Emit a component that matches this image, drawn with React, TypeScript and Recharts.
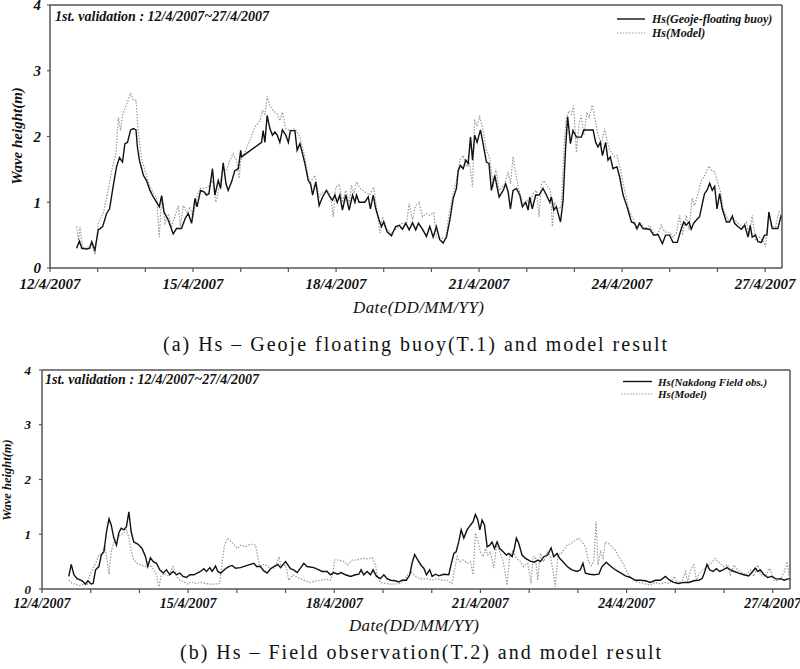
import { Line, LineChart, ReferenceLine, XAxis, YAxis } from "recharts";

// hours since 12/4/2007 00:00, wave height (m)
const geojeObs = [
  [13.4, 0.3], [14.8, 0.41], [16, 0.3], [18.5, 0.29], [20, 0.3], [21, 0.4], [22.6, 0.27], [24.3, 0.58], [26.5, 0.63], [28.5, 0.83],
  [30, 0.9], [32, 1.28], [33.5, 1.54], [35, 1.68], [36.5, 1.61], [37.7, 1.89], [39, 1.91], [40.6, 2.1], [42, 2.12], [43.3, 2.1],
  [44, 1.84], [45, 1.64], [47, 1.41], [48.6, 1.33], [50.3, 1.18], [52, 1.08], [53.7, 1.0], [55, 0.93], [56.2, 1.1], [57.4, 0.85],
  [59.5, 0.73], [60.7, 0.63], [62, 0.52], [63.7, 0.6], [66.2, 0.6], [68, 0.75], [69.6, 0.83], [71.3, 0.68], [73, 1.06], [74, 0.93],
  [75.8, 1.18], [77.5, 1.16], [78.8, 1.11], [80, 1.13], [81.8, 1.51], [83, 1.11], [84.7, 1.33], [85.9, 1.21], [87.2, 1.6], [88.6, 1.28],
  [89.7, 1.18], [91.4, 1.31], [93, 1.48], [94.8, 1.51], [96, 1.79], [96.4, 1.69], [106.5, 1.91], [107.3, 2.09], [108.2, 1.91], [109.3, 2.32],
  [110.7, 2.12], [112, 2.02], [113.2, 2.07], [114.4, 2.02], [115.7, 1.91], [117, 2.1], [118.7, 2.02], [120, 1.91], [121, 2.09], [123.3, 2.09],
  [124.4, 1.79], [125.8, 1.89], [127.1, 1.74], [128.3, 1.59], [130, 1.33], [131.2, 1.28], [132.2, 1.11], [133.8, 1.31], [135.5, 0.95], [137.2, 1.08],
  [139.2, 1.18], [140.9, 1.08], [142.2, 1.03], [143.4, 1.11], [144.6, 1.0], [145.9, 1.11], [147.2, 0.88], [148.9, 1.11], [150.6, 0.88], [152.3, 1.11],
  [153.5, 1.0], [154.3, 1.11], [155.6, 1.0], [158.5, 1.0], [160.2, 1.08], [161.3, 0.9], [162.7, 1.11], [164, 0.9], [165.7, 0.73], [166.9, 0.63],
  [168, 0.7], [169.7, 0.55], [171.9, 0.49], [174, 0.63], [175.8, 0.65], [177.4, 0.59], [179.1, 0.68], [180.8, 0.58], [182.5, 0.69], [184.1, 0.58],
  [185.5, 0.68], [187.5, 0.59], [189.5, 0.48], [191.2, 0.63], [192.9, 0.47], [194.5, 0.63], [196.2, 0.43], [197.9, 0.38], [199.6, 0.47], [201.3, 0.73],
  [203, 1.06], [204.6, 1.21], [205.5, 1.48], [206.6, 1.56], [208, 1.51], [209.3, 1.64], [210.5, 1.59], [211.7, 1.99], [212.7, 1.64], [213.8, 2.02],
  [215, 1.91], [216.7, 2.1], [218, 1.89], [219.7, 1.61], [221, 1.59], [222.2, 1.18], [223.9, 1.41], [226.1, 1.08], [228.1, 1.18], [229.4, 1.28],
  [230.6, 1.16], [231.8, 0.9], [233.1, 1.18], [234.8, 1.21], [236.5, 1.11], [237.8, 0.93], [239.5, 1.0], [240.7, 0.88], [241.5, 1.08], [242.8, 0.9],
  [244.5, 1.11], [246.2, 1.11], [248.2, 1.21], [249.9, 1.11], [251.6, 1.0], [252.4, 1.08], [253.6, 0.88], [254.9, 0.93], [255.8, 0.83], [257, 0.7],
  [258.3, 1.03], [259.6, 1.84], [260.6, 2.3], [262, 1.89], [263.3, 2.09], [265, 1.99], [267.5, 1.99], [268.7, 2.1], [273.4, 2.1], [274.7, 1.91],
  [275.9, 1.84], [277, 1.91], [278.1, 1.71], [279.7, 1.91], [280.9, 1.64], [282.1, 1.69], [283.4, 1.51], [285.4, 1.54], [286.8, 1.38], [288.5, 1.11],
  [290.5, 0.93], [292.7, 0.7], [294.3, 0.68], [295.5, 0.6], [296.8, 0.68], [298.5, 0.6], [301.9, 0.59], [303.9, 0.5], [306.1, 0.51], [308.3, 0.37],
  [309.9, 0.5], [311.9, 0.5], [313.6, 0.39], [315.8, 0.39], [317.3, 0.55], [319, 0.7], [320.3, 0.65], [321.7, 0.7], [322.8, 0.59], [324, 0.68],
  [325.4, 0.73], [327, 0.78], [328.4, 0.98], [329.5, 1.13], [330.7, 1.18], [332.1, 1.29], [333.4, 1.18], [334.6, 1.24], [335.8, 0.9], [337.1, 1.13],
  [338.4, 0.9], [340.5, 0.7], [342.1, 0.7], [343.5, 0.79], [344.6, 0.68], [346.3, 0.63], [348, 0.59], [349.7, 0.65], [351.4, 0.47], [352.5, 0.65],
  [353.5, 0.47], [355.2, 0.5], [356.4, 0.4], [358.1, 0.39], [359.7, 0.5], [360.9, 0.5], [361.9, 0.85], [363.6, 0.6], [366.4, 0.6], [368.1, 0.8],
];

const geojeModel = [
  [13.4, 0.63], [14.3, 0.42], [15.1, 0.63], [16.3, 0.32], [18.4, 0.3], [21, 0.37], [22.6, 0.2], [24.3, 0.68], [26.8, 0.83], [29.3, 1.18],
  [31, 1.48], [33.2, 1.74], [34.4, 2.29], [35.6, 2.09], [36.6, 2.34], [38.6, 2.49], [40.6, 2.66], [42, 2.55], [43.3, 2.55], [44.4, 2.09],
  [46.1, 1.66], [47.8, 1.48], [50.3, 1.23], [52.3, 1.13], [53.7, 1.06], [55, 0.47], [56.2, 1.08], [57.9, 0.68], [59.5, 0.8], [61.2, 0.63],
  [64.6, 0.95], [65.7, 0.63], [67.1, 0.95], [69.1, 0.83], [70.4, 0.93], [72.1, 0.78], [73.8, 1.08], [75.5, 1.21], [77.5, 1.21], [79.7, 1.23],
  [81.8, 1.33], [83.5, 1.0], [85.2, 1.23], [86.9, 1.48], [88.9, 1.48], [90.6, 1.64], [92.2, 1.74], [93.9, 1.64], [95.3, 1.36], [96, 1.64],
  [98.1, 1.76], [100.6, 1.94], [103.1, 2.14], [105.7, 2.24], [107, 2.39], [108.2, 2.34], [109.3, 2.61], [110.7, 2.47], [112.4, 2.39], [114.4, 2.34],
  [115.7, 2.24], [117, 2.37], [118.7, 2.12], [120.8, 2.09], [123.3, 2.12], [125.8, 1.99], [128.3, 1.69], [130, 1.38], [131.2, 1.31], [133.3, 1.41],
  [135.5, 1.08], [137.5, 1.16], [139.5, 1.18], [141.2, 1.11], [142.6, 0.78], [143.9, 1.23], [145.6, 1.28], [147.2, 1.0], [148.9, 1.18], [150.6, 0.98],
  [151.8, 1.26], [153, 1.13], [154.3, 1.31], [156, 1.21], [158.5, 1.16], [161, 1.11], [163, 1.23], [164.7, 0.85], [166, 0.53], [167.4, 0.78],
  [169.4, 0.6], [171.9, 0.53], [174.4, 0.6], [176.9, 0.68], [179.5, 0.68], [180.8, 0.98], [182.5, 0.73], [184.1, 0.95], [185.8, 1.0], [187.5, 0.78],
  [189.5, 0.83], [191.2, 0.8], [193.2, 0.84], [194.5, 0.47], [197.1, 0.45], [199.2, 0.45], [200.9, 0.83], [203, 1.13], [204.6, 1.33], [206.3, 1.64],
  [208, 1.71], [209.6, 1.54], [211.3, 1.59], [212.7, 1.23], [213.8, 2.24], [215, 2.17], [216.3, 2.3], [217.7, 2.14], [219.7, 1.79], [221.4, 1.66],
  [223.1, 1.23], [224.4, 1.51], [226.1, 1.18], [228.9, 1.28], [230.6, 1.46], [231.8, 1.28], [233.1, 1.69], [234.8, 1.38], [236.5, 1.13], [238.2, 0.98],
  [240.2, 1.03], [241.5, 0.98], [243.2, 1.13], [244.9, 1.18], [246.2, 0.78], [247.4, 1.28], [248.5, 1.33], [250.7, 1.23], [251.9, 1.18], [252.9, 0.63],
  [254.1, 1.0], [255.8, 0.9], [257.4, 0.93], [258.8, 1.84], [259.9, 2.29], [261.3, 2.39], [262.5, 2.34], [263.6, 2.47], [265, 1.76], [266.3, 2.19],
  [267.5, 2.32], [268.7, 2.02], [270.3, 2.37], [271.4, 2.29], [273, 2.48], [274.2, 2.29], [275.9, 2.02], [277.6, 1.89], [279.2, 2.12], [280.4, 1.94],
  [281.8, 1.79], [284.3, 1.69], [285.4, 1.71], [287.1, 1.51], [289.3, 1.18], [291.5, 0.88], [293.8, 0.73], [295.2, 0.58], [296.8, 0.7], [299.4, 0.6],
  [301.9, 0.65], [304.4, 0.5], [306.1, 0.53], [307.7, 0.65], [309.4, 0.55], [311.9, 0.54], [313.6, 0.47], [315.3, 0.53], [317, 0.8], [318.3, 0.5],
  [320.3, 0.8], [321.7, 0.58], [323.3, 1.06], [324.5, 0.95], [326.2, 1.13], [327.9, 1.33], [329.1, 1.38], [330.4, 1.46], [331.7, 1.55], [332.9, 1.49],
  [334.6, 1.46], [336.3, 1.28], [337.4, 1.18], [339.1, 0.88], [341.3, 0.73], [343.8, 0.75], [346.3, 0.68], [348.8, 0.63], [350.5, 0.7], [351.9, 0.5],
  [353.5, 0.8], [355.2, 0.42], [357.2, 0.47], [358.9, 0.42], [360.2, 0.32], [361.9, 0.85], [363.1, 0.63], [365.3, 0.63], [367, 0.85], [368.1, 0.8],
];

const nakdongObs = [
  [13.2, 0.23], [14.4, 0.45], [15.7, 0.26], [17.3, 0.19], [19.8, 0.15], [21.4, 0.09], [22.6, 0.15], [24.2, 0.09], [25.2, 0.1], [26.4, 0.35],
  [28, 0.41], [29.2, 0.62], [30.5, 0.68], [31.8, 1.05], [33, 1.28], [34.1, 1.17], [35.4, 0.93], [36.7, 0.8], [37.8, 1.02], [39, 1.11],
  [40.3, 1.08], [41.6, 1.14], [42.8, 1.41], [43.9, 1.05], [45.2, 0.86], [47.2, 0.82], [49.3, 0.74], [51, 0.59], [52.1, 0.41], [53.4, 0.57],
  [54.8, 0.5], [56.4, 0.47], [58, 0.35], [59.7, 0.29], [61.3, 0.35], [63, 0.26], [64.6, 0.32], [66.3, 0.26], [67.9, 0.29], [69.5, 0.23],
  [71.2, 0.21], [72.8, 0.26], [74.8, 0.26], [76.4, 0.29], [78.1, 0.32], [79.7, 0.37], [81, 0.32], [82.7, 0.39], [83.8, 0.32], [85.5, 0.42],
  [86.6, 0.32], [88, 0.29], [90.4, 0.37], [92, 0.41], [93.7, 0.43], [95.3, 0.38], [97.8, 0.39], [101.1, 0.43], [104.4, 0.47], [105.7, 0.41],
  [107.6, 0.41], [109.3, 0.33], [110.9, 0.29], [112.6, 0.37], [114.2, 0.41], [116.2, 0.45], [117.5, 0.39], [120, 0.5], [121.1, 0.44], [122.4, 0.37],
  [124, 0.35], [125.7, 0.3], [127.3, 0.38], [129, 0.47], [130.6, 0.41], [133.9, 0.39], [136.4, 0.35], [138, 0.32], [140.5, 0.32], [142.1, 0.26],
  [143.7, 0.3], [145.7, 0.27], [147.4, 0.3], [149.5, 0.26], [152, 0.23], [154.4, 0.26], [156.1, 0.27], [157.2, 0.35], [158.5, 0.26], [160.2, 0.32],
  [161.8, 0.26], [163.1, 0.35], [164.8, 0.23], [166.7, 0.19], [168.4, 0.26], [170, 0.19], [171.7, 0.16], [174.1, 0.15], [175.8, 0.13], [177.4, 0.16],
  [179.5, 0.16], [181.2, 0.26], [182.3, 0.47], [183.6, 0.63], [185.1, 0.53], [186.8, 0.43], [188.1, 0.38], [189.4, 0.26], [191, 0.35], [192.2, 0.23],
  [193.8, 0.27], [195.5, 0.24], [197.9, 0.27], [200.4, 0.26], [201.5, 0.44], [202.9, 0.65], [204, 0.68], [205.3, 0.86], [206.5, 1.08], [207.8, 0.93],
  [209.4, 1.08], [211.1, 1.17], [212.4, 1.23], [213.5, 1.36], [214.7, 1.26], [215.7, 1.08], [216.8, 1.26], [218, 1.17], [219.3, 0.77], [220.6, 0.8],
  [221.7, 0.86], [222.9, 0.74], [224.2, 0.86], [225.5, 0.74], [227.2, 0.68], [228.8, 0.62], [230, 0.65], [231.6, 0.59], [232.7, 0.74], [233.7, 0.93],
  [234.9, 0.83], [236.5, 0.62], [238.2, 0.56], [240.6, 0.51], [242.6, 0.49], [244.2, 0.53], [245.5, 0.5], [247.2, 0.59], [249.1, 0.62], [250.8, 0.75],
  [252.1, 0.59], [253.7, 0.65], [255, 0.56], [256.7, 0.5], [258.7, 0.41], [261.1, 0.35], [263.6, 0.32], [265.2, 0.35], [266.5, 0.47], [267.7, 0.29],
  [269.8, 0.27], [271.8, 0.26], [274.3, 0.27], [275.9, 0.41], [278, 0.49], [279.7, 0.43], [281.7, 0.37], [283.3, 0.33], [285.3, 0.29], [287.4, 0.24],
  [289.9, 0.21], [292.3, 0.16], [294.8, 0.16], [297.3, 0.15], [299.7, 0.12], [302.2, 0.16], [304.6, 0.16], [307.1, 0.23], [309.2, 0.16], [311.2, 0.12],
  [313.7, 0.1], [316.1, 0.12], [318.6, 0.12], [321.1, 0.15], [323.5, 0.16], [325.2, 0.19], [326.3, 0.29], [327.6, 0.45], [328.9, 0.35], [330.6, 0.32],
  [332.2, 0.37], [333.9, 0.32], [335.5, 0.35], [337.5, 0.39], [339.1, 0.35], [341.1, 0.32], [343.2, 0.29], [345.7, 0.26], [348.2, 0.24], [350.3, 0.33],
  [351.4, 0.38], [352.6, 0.32], [353.9, 0.35], [355.5, 0.27], [357.5, 0.21], [359.6, 0.23], [361.8, 0.18], [363.8, 0.19], [365.7, 0.16], [367, 0.18],
  [368.4, 0.19],
];

const nakdongModel = [
  [13.2, 0.16], [14.9, 0.1], [16.5, 0.09], [18.6, 0.06], [20.6, 0.09], [22.3, 0.07], [23.6, 0.26], [24.7, 0.35], [26.4, 0.47], [28, 0.62],
  [29.6, 0.65], [30.8, 0.8], [31.8, 0.59], [33, 0.27], [34.1, 0.68], [35.4, 0.86], [37, 0.93], [38.7, 0.99], [40.3, 1.02], [41.6, 1.08],
  [42.8, 0.93], [43.9, 0.71], [45.2, 0.53], [46.9, 0.47], [48.5, 0.44], [51, 0.41], [53.4, 0.43], [55.1, 0.35], [56.4, 0.26], [57.6, 0.04],
  [58.7, 0.23], [60.3, 0.29], [62.5, 0.23], [64.6, 0.41], [66.3, 0.23], [67.9, 0.16], [69.9, 0.13], [71.5, 0.09], [73.5, 0.13], [75.6, 0.1],
  [78.1, 0.12], [80.5, 0.1], [83, 0.09], [85.5, 0.09], [87.6, 0.1], [88.8, 0.5], [89.9, 0.8], [91.5, 0.93], [93.2, 0.86], [94.5, 0.82],
  [96.1, 0.74], [97.8, 0.8], [100.3, 0.77], [102.7, 0.82], [105.2, 0.8], [106.3, 0.59], [107.3, 0.41], [108.9, 0.45], [110.6, 0.43], [112.6, 0.37],
  [115, 0.39], [116.7, 0.59], [117.8, 0.41], [120, 0.44], [121.6, 0.16], [123.7, 0.26], [124.9, 0.23], [127.3, 0.19], [129.8, 0.15], [132.3, 0.12],
  [134.7, 0.15], [137.2, 0.16], [139.6, 0.18], [142.1, 0.16], [143.4, 0.32], [144.1, 0.53], [146.2, 0.53], [148.7, 0.5], [150.6, 0.44], [152.8, 0.53],
  [155.2, 0.53], [157.7, 0.56], [160.2, 0.55], [162.6, 0.57], [164.3, 0.44], [165.1, 0.26], [166.7, 0.12], [169.2, 0.1], [171.7, 0.09], [174.1, 0.09],
  [176.6, 0.1], [178.2, 0.16], [180.2, 0.26], [181.5, 0.32], [183.2, 0.26], [184.8, 0.21], [187.3, 0.18], [189.7, 0.19], [192.2, 0.16], [194.6, 0.19],
  [197.1, 0.16], [199.6, 0.16], [202, 0.1], [203.2, 0.35], [204.5, 0.59], [205.8, 0.5], [207.5, 0.53], [209.4, 0.47], [211.1, 0.5], [212.4, 0.26],
  [213.5, 1.02], [214.7, 0.89], [216, 0.68], [217.3, 0.59], [218.5, 0.74], [219.6, 0.62], [220.9, 0.68], [222.6, 0.38], [223.9, 0.8], [225.5, 0.68],
  [227.2, 0.5], [229.1, 0.07], [230.4, 0.59], [232.1, 0.71], [233.7, 0.56], [235.7, 0.5], [237.3, 0.41], [239.3, 0.47], [240.9, 0.1], [241.9, 0.59],
  [243.1, 0.59], [244.2, 0.16], [245.5, 0.65], [247.2, 0.5], [248.8, 0.68], [250.5, 0.59], [251.8, 0.32], [252.9, 0.04], [254.1, 0.62], [255.7, 0.65],
  [257, 0.71], [258.7, 0.8], [260.6, 0.83], [262.3, 0.88], [264.4, 0.93], [266.1, 0.86], [267.7, 0.77], [269.3, 0.5], [270.5, 0.43], [271.8, 0.5],
  [273, 1.23], [273.9, 0.44], [275.1, 0.68], [276.4, 0.56], [277.5, 0.86], [279.2, 0.83], [280.8, 0.77], [282.5, 0.71], [284.1, 0.59], [285.8, 0.5],
  [287.4, 0.38], [289, 0.26], [290.7, 0.19], [293.1, 0.13], [296.4, 0.1], [299.7, 0.07], [302.2, 0.12], [304.6, 0.09], [307.1, 0.12], [309.2, 0.1],
  [311.5, 0.23], [312.9, 0.1], [315.3, 0.15], [317, 0.32], [318.1, 0.12], [319.4, 0.35], [321.1, 0.44], [322.4, 0.16], [324, 0.29], [325.7, 0.35],
  [327.6, 0.41], [329.6, 0.47], [331.7, 0.56], [333.9, 0.47], [335.8, 0.41], [337.8, 0.44], [339.1, 0.26], [340.8, 0.44], [342.7, 0.35], [344.9, 0.29],
  [347, 0.26], [349, 0.35], [350.6, 0.23], [352.6, 0.44], [354.2, 0.26], [356.4, 0.23], [358.5, 0.38], [360.5, 0.16], [362.5, 0.15], [364.1, 0.19],
  [365.7, 0.32], [367, 0.5], [368.4, 0.16],
];

const dayTicks = [0, 24, 48, 72, 96, 120, 144, 168, 192, 216, 240, 264, 288, 312, 336, 360];
const dateLabels: Record<number, string> = {
  0: "12/4/2007",
  72: "15/4/2007",
  144: "18/4/2007",
  216: "21/4/2007",
  288: "24/4/2007",
  360: "27/4/2007",
};
const heightTicks = [0, 1, 2, 3, 4];
const xMax = 368.5;

const SERIF = "'Liberation Serif', 'Times New Roman', serif";
const AXIS = "#555";

const toPts = (rows: number[][]) => rows.map(([h, v]) => ({ h, v }));

type PanelProps = {
  top: number;
  height: number;
  margin: { top: number; right: number; bottom: number; left: number };
  yWidth: number;
  xFont: number;
  yFont: number;
  xTickMargin: number;
  yTickMargin: number;
  obs: number[][];
  model: number[][];
};

function Panel(p: PanelProps) {
  const tickStyle = (size: number) => ({
    fontFamily: SERIF,
    fontStyle: "italic",
    fontWeight: "bold",
    fontSize: size,
    fill: "#111",
  });
  return (
    <div style={{ position: "absolute", left: 0, top: p.top }}>
      <LineChart width={800} height={p.height} margin={p.margin}>
        <XAxis
          type="number"
          dataKey="h"
          domain={[0, xMax]}
          allowDataOverflow
          ticks={dayTicks}
          interval={0}
          tickFormatter={(h: number) => dateLabels[h] ?? ""}
          tick={tickStyle(p.xFont)}
          tickSize={4}
          tickMargin={p.xTickMargin}
          height={30}
          axisLine={{ stroke: AXIS, strokeWidth: 1.5 }}
          tickLine={{ stroke: AXIS, strokeWidth: 1.2 }}
        />
        <YAxis
          type="number"
          domain={[0, 4]}
          ticks={heightTicks}
          interval={0}
          width={p.yWidth}
          tick={tickStyle(p.yFont)}
          tickSize={3}
          tickMargin={p.yTickMargin}
          axisLine={{ stroke: AXIS, strokeWidth: 1.5 }}
          tickLine={{ stroke: AXIS, strokeWidth: 1.2 }}
        />
        <ReferenceLine y={4} stroke={AXIS} strokeWidth={1.5} />
        <ReferenceLine x={xMax} stroke={AXIS} strokeWidth={1.5} />
        <Line
          data={toPts(p.model)}
          dataKey="v"
          type="linear"
          stroke="#9a9a9a"
          strokeWidth={1.2}
          strokeDasharray="1.5 1.5"
          dot={false}
          isAnimationActive={false}
        />
        <Line
          data={toPts(p.obs)}
          dataKey="v"
          type="linear"
          stroke="#111"
          strokeWidth={1.4}
          dot={false}
          isAnimationActive={false}
        />
      </LineChart>
    </div>
  );
}

const bi = { fontFamily: SERIF, fontStyle: "italic", fontWeight: "bold", fill: "#111" } as const;

export default function App() {
  return (
    <div style={{ position: "absolute", left: 0, top: 0, width: 800, height: 669, background: "#fff" }}>
      <Panel
        top={0}
        height={300}
        margin={{ top: 5, right: 18, bottom: 2, left: 0 }}
        yWidth={50}
        xFont={15}
        yFont={15}
        xTickMargin={6}
        yTickMargin={6}
        obs={geojeObs}
        model={geojeModel}
      />
      <Panel
        top={356}
        height={270}
        margin={{ top: 14, right: 10, bottom: 7, left: 0 }}
        yWidth={42}
        xFont={14}
        yFont={13}
        xTickMargin={5}
        yTickMargin={8}
        obs={nakdongObs}
        model={nakdongModel}
      />
      <svg
        width={800}
        height={669}
        style={{ position: "absolute", left: 0, top: 0, pointerEvents: "none" }}
      >
        {/* panel (a) */}
        <text x={55} y={16} dominantBaseline="central" fontSize={14} {...bi}>
          1st. validation : 12/4/2007~27/4/2007
        </text>
        <line x1={617} x2={645} y1={19} y2={19} stroke="#111" strokeWidth={1.4} />
        <text x={652} y={19} dominantBaseline="central" fontSize={12} {...bi}>
          Hs(Geoje-floating buoy)
        </text>
        <line x1={617} x2={645} y1={33} y2={33} stroke="#9a9a9a" strokeWidth={1.2} strokeDasharray="1.5 1.5" />
        <text x={652} y={33} dominantBaseline="central" fontSize={12} {...bi}>
          Hs(Model)
        </text>
        <text
          transform="translate(17,136) rotate(-90)"
          textAnchor="middle"
          dominantBaseline="central"
          fontSize={15}
          {...bi}
        >
          Wave height(m)
        </text>
        <text
          x={353}
          y={307}
          dominantBaseline="central"
          fontFamily={SERIF}
          fontStyle="italic"
          fontSize={17}
          textLength={131}
          lengthAdjust="spacing"
          fill="#111"
        >
          Date(DD/MM/YY)
        </text>
        <text
          x={163}
          y={344}
          dominantBaseline="central"
          fontFamily={SERIF}
          fontSize={20}
          textLength={504}
          lengthAdjust="spacing"
          fill="#111"
        >
          (a) Hs – Geoje floating buoy(T.1) and model result
        </text>

        {/* panel (b) */}
        <text x={45} y={379} dominantBaseline="central" fontSize={14} {...bi}>
          1st. validation : 12/4/2007~27/4/2007
        </text>
        <line x1={623} x2={652} y1={381.5} y2={381.5} stroke="#111" strokeWidth={1.4} />
        <text x={658} y={381.5} dominantBaseline="central" fontSize={11} {...bi}>
          Hs(Nakdong Field obs.)
        </text>
        <line x1={621} x2={652} y1={394} y2={394} stroke="#9a9a9a" strokeWidth={1.2} strokeDasharray="1.5 1.5" />
        <text x={658} y={394} dominantBaseline="central" fontSize={11} {...bi}>
          Hs(Model)
        </text>
        <text
          transform="translate(7,480) rotate(-90)"
          textAnchor="middle"
          dominantBaseline="central"
          fontSize={12.5}
          {...bi}
        >
          Wave height(m)
        </text>
        <text
          x={349}
          y={625}
          dominantBaseline="central"
          fontFamily={SERIF}
          fontStyle="italic"
          fontSize={17}
          textLength={130}
          lengthAdjust="spacing"
          fill="#111"
        >
          Date(DD/MM/YY)
        </text>
        <text
          x={180}
          y={652}
          dominantBaseline="central"
          fontFamily={SERIF}
          fontSize={20}
          textLength={481}
          lengthAdjust="spacing"
          fill="#111"
        >
          (b) Hs – Field observation(T.2) and model result
        </text>
      </svg>
    </div>
  );
}
